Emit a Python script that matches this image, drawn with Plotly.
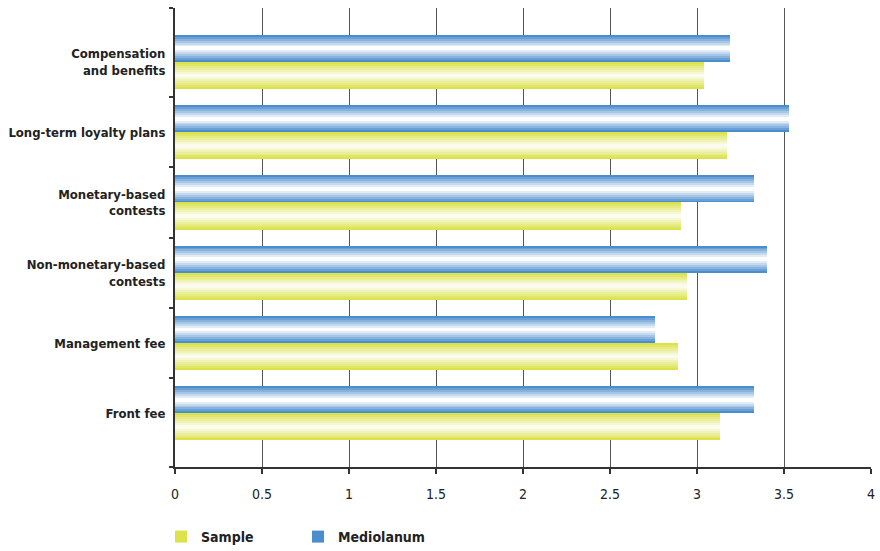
import plotly.graph_objects as go

# Survey categories, listed top to bottom
categories = [
    "Compensation<br>and benefits",
    "Long-term loyalty plans",
    "Monetary-based<br>contests",
    "Non-monetary-based<br>contests",
    "Management fee",
    "Front fee",
]
sample = [3.04, 3.17, 2.91, 2.94, 2.89, 3.13]
mediolanum = [3.19, 3.53, 3.33, 3.40, 2.76, 3.33]

x_ticks = [0, 0.5, 1, 1.5, 2, 2.5, 3, 3.5, 4]

FONT = "Liberation Sans Narrow, DejaVu Sans Condensed, Arial Narrow, sans-serif"
n = len(categories)
ypos = [n - 1 - i for i in range(n)]  # first category at the top

BAR_W = 0.386   # thickness of each bar in category units
LAYERS = 7      # nested layers that build the cylinder-like shading


def mix(c1, c2, t):
    a = [int(c1[i:i + 2], 16) for i in (1, 3, 5)]
    b = [int(c2[i:i + 2], 16) for i in (1, 3, 5)]
    return "#" + "".join(f"{round(a[j] + (b[j] - a[j]) * t):02x}" for j in range(3))


def shaded_bars(fig, values, name, edge, center, mid_offset):
    for k in range(LAYERS):
        w = BAR_W * (1 - k / LAYERS)
        fig.add_trace(go.Bar(
            x=values, y=ypos, orientation="h",
            width=w, offset=mid_offset - w / 2,
            marker=dict(color=mix(edge, center, k / (LAYERS - 1)), line=dict(width=0)),
            name=name, legendgroup=name, showlegend=(k == 0),
            hoverinfo="skip" if k else None,
        ))


fig = go.Figure()
shaded_bars(fig, sample, "Sample", "#dbe24c", "#fbfcee", -BAR_W / 2)
shaded_bars(fig, mediolanum, "Mediolanum", "#4c8dcd", "#ffffff", BAR_W / 2)

y_lo, y_hi = -0.765, n - 1 + 0.768

fig.update_layout(
    width=880, height=551,
    margin=dict(l=175, r=9, t=8, b=84, autoexpand=False),
    paper_bgcolor="white", plot_bgcolor="white",
    barmode="overlay", bargap=0,
    font=dict(family=FONT, size=14, color="#222222"),
    showlegend=True,
    legend=dict(
        orientation="h", xref="container", yref="container",
        x=161 / 880, xanchor="left", y=14 / 551, yanchor="middle",
        entrywidth=92, font=dict(family=FONT, size=14, color="#222222", weight="bold"),
        traceorder="normal",
    ),
    xaxis=dict(
        range=[0, 4], tickvals=x_ticks, ticktext=[f"{v:g}" for v in x_ticks],
        showgrid=True, gridcolor="#555555", gridwidth=1.4,
        zeroline=False, showline=True, linecolor="#333333", linewidth=2,
        ticks="outside", ticklen=5, tickcolor="#333333", tickwidth=1.5,
        ticklabelstandoff=8, tickfont=dict(size=14, color="#222222"),
        automargin=False,
    ),
    yaxis=dict(
        range=[y_lo, y_hi], tickvals=ypos, ticktext=categories,
        showgrid=False, zeroline=False, showline=True,
        linecolor="#333333", linewidth=2, ticks="", ticklabelstandoff=5,
        tickfont=dict(size=13, color="#222222", weight="bold"),
        automargin=False,
        minor=dict(
            tickmode="array",
            tickvals=[y_lo] + [p + 0.5 for p in range(n - 1)] + [y_hi],
            ticks="outside", ticklen=4, tickcolor="#333333", tickwidth=1.5,
            showgrid=False,
        ),
    ),
)

fig.write_html("out.html")
